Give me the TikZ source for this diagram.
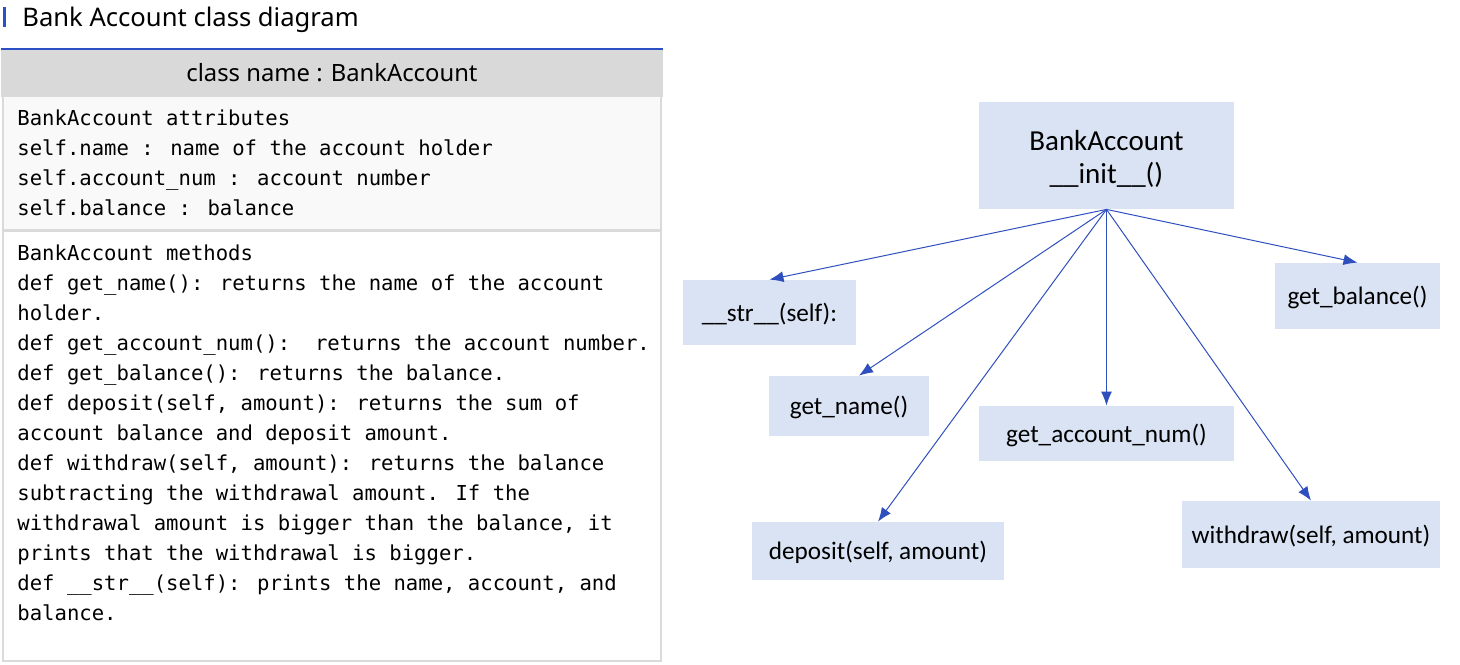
\documentclass[tikz,border=0pt]{standalone}
\usepackage{fontspec}
\setmainfont{Noto Sans}
\newfontfamily\boxfont{Carlito}
\newfontfamily\codefont{DejaVu Sans Mono}
\usetikzlibrary{arrows.meta,positioning}
\definecolor{barblue}{HTML}{2B4FC4}
\definecolor{linkblue}{HTML}{2F4FBF}
\definecolor{hdrgray}{HTML}{D9D9D9}
\definecolor{rulegray}{HTML}{DADADA}
\definecolor{attrfill}{HTML}{F9F9F9}
\definecolor{methfill}{HTML}{DAE3F3}

\tikzset{
  codeline/.style={anchor=base west,inner sep=0pt,
                   font=\codefont\fontsize{10.3}{15}\selectfont},
  section/.style={draw=rulegray,line width=1pt,inner sep=0pt,minimum width=329pt},
  methbox/.style={fill=methfill,inner sep=0pt,align=center,
                  font=\boxfont\fontsize{12.6}{17}\selectfont},
  onelabel/.style={text height=10.5pt,text depth=2pt},
  calls/.style={linkblue,line width=0.5pt,-{Latex[length=7pt,width=5.5pt]}}
}

\begin{document}
\begin{tikzpicture}[x=0.5pt,y=-0.5pt]
\useasboundingbox (0,0) rectangle (1460,664);
% title
\fill[barblue] (2.5,7) rectangle (6,27);
\node[anchor=base west,inner sep=0pt,font=\fontsize{12.8}{15}\selectfont] (title) at (22,26)
   {Bank Account class diagram};
% class table
\node[section,fill=hdrgray,draw=hdrgray,minimum width=330pt,minimum height=23pt,
      font=\fontsize{11.9}{14}\selectfont] (hdr) at (332,73) {class name : BankAccount};
\draw[barblue,line width=1pt] (hdr.north west) -- (hdr.north east);
\node[section,fill=attrfill,minimum height=67pt] (attrs) at (332,163) {};
\node[section,fill=white,minimum height=215pt] (meths) at (332,446) {};
\foreach \t [count=\i] in {BankAccount attributes,
    self.name : name of the account holder,
    self.account\_num : account number,
    self.balance : balance}
  \node[codeline] (attr\i) at (17,{95+30*\i}) {\t};
\foreach \t [count=\i] in {BankAccount methods,
    def get\_name(): returns the name of the account,
    holder.,
    def get\_account\_num():\ \ returns the account number.,
    def get\_balance(): returns the balance.,
    {def deposit(self, amount): returns the sum of},
    account balance and deposit amount.,
    {def withdraw(self, amount): returns the balance},
    subtracting the withdrawal amount. If the,
    {withdrawal amount is bigger than the balance, it},
    prints that the withdrawal is bigger.,
    {def \_\_str\_\_(self): prints the name, account, and},
    balance.}
  \node[codeline] (meth\i) at (17,{230+30*\i}) {\t};
% call diagram
\node[methbox,minimum width=127.5pt,minimum height=53.5pt,
      font=\boxfont\fontsize{14.5}{16.5}\selectfont] (init) at (1106.5,155.5)
   {\rule{0pt}{14pt}BankAccount\\\_\_init\_\_()};
\node[methbox,onelabel,minimum width=86.5pt,minimum height=32.5pt] (str) at (769.5,312.5) {\_\_str\_\_(self):};
\node[methbox,onelabel,minimum width=82.5pt,minimum height=33pt] (bal) at (1357.5,296) {get\_balance()};
\node[methbox,onelabel,minimum width=80pt,minimum height=30pt] (name) at (849,406) {get\_name()};
\node[methbox,onelabel,minimum width=127.5pt,minimum height=27.5pt] (acct) at (1106.5,433.5) {get\_account\_num()};
\node[methbox,onelabel,minimum width=126pt,minimum height=29pt] (dep) at (878,551) {deposit(self, amount)};
\node[methbox,onelabel,minimum width=129pt,minimum height=33.5pt] (wd) at (1311,534.5) {withdraw(self, amount)};
\foreach \m in {str,bal,acct,dep,wd}
  \draw[calls] (init.south) -- (\m.north);
\draw[calls] (init.south) -- ([xshift=5pt]name.north);
\end{tikzpicture}
\end{document}
